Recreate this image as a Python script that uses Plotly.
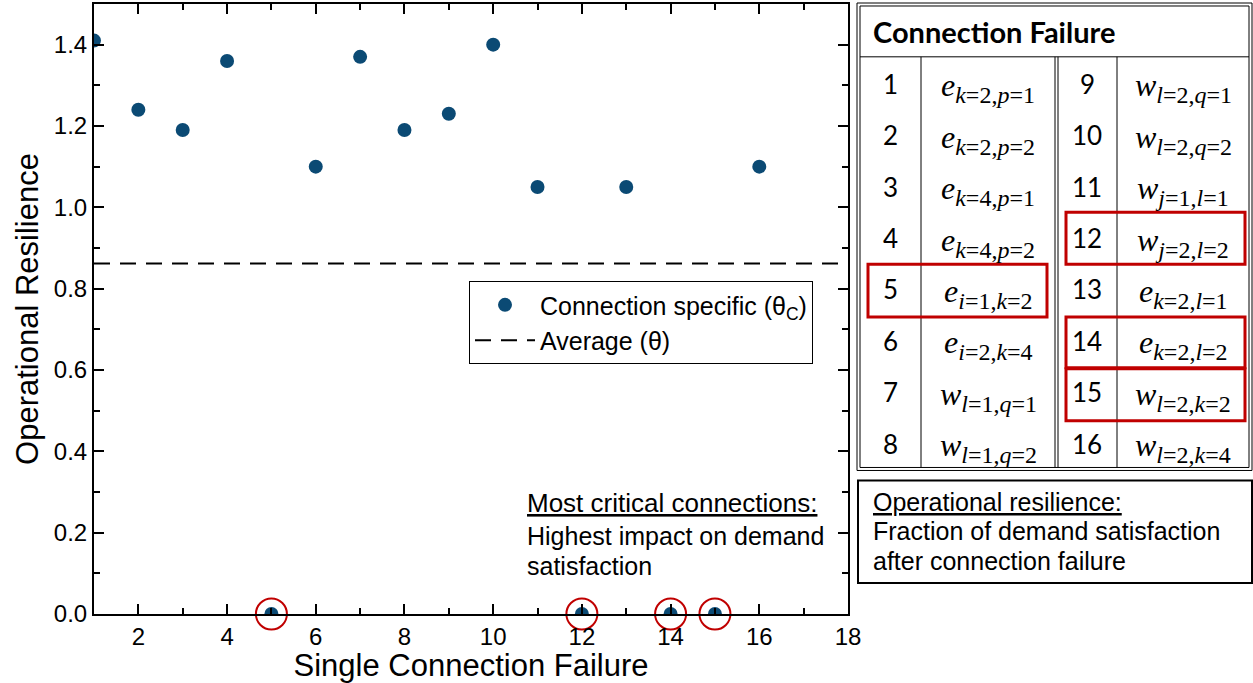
import plotly.graph_objects as go

# Operational resilience for each single connection failure
failure_ids = list(range(1, 17))
resilience = [1.41, 1.24, 1.19, 1.36, 0.0, 1.10, 1.37, 1.19,
              1.23, 1.40, 1.05, 0.0, 1.05, 0.0, 0.0, 1.10]
average_resilience = 0.862

# Connection labels shown in the lookup table (index -> connection)
table_ids_left = [1, 2, 3, 4, 5, 6, 7, 8]
table_conn_left = [
    ("e", "k", "2", "p", "1"), ("e", "k", "2", "p", "2"),
    ("e", "k", "4", "p", "1"), ("e", "k", "4", "p", "2"),
    ("e", "i", "1", "k", "2"), ("e", "i", "2", "k", "4"),
    ("w", "l", "1", "q", "1"), ("w", "l", "1", "q", "2"),
]
table_ids_right = [9, 10, 11, 12, 13, 14, 15, 16]
table_conn_right = [
    ("w", "l", "2", "q", "1"), ("w", "l", "2", "q", "2"),
    ("w", "j", "1", "l", "1"), ("w", "j", "2", "l", "2"),
    ("e", "k", "2", "l", "1"), ("e", "k", "2", "l", "2"),
    ("w", "l", "2", "k", "2"), ("w", "l", "2", "k", "4"),
]

critical = [i for i, v in zip(failure_ids, resilience) if v == 0.0]

W, H = 1253, 683
ML, MR, MT, MB = 94, 405, 2, 69
PW, PH = W - ML - MR, H - MT - MB


def px(x):
    return (x - ML) / PW


def py(y):
    return (H - MB - y) / PH


SANS = "Liberation Sans, Arial, sans-serif"
TABLE_FONT = "Lato, Carlito, sans-serif"
MATH_FONT = "Liberation Serif, DejaVu Serif, serif"
BLUE = "#0B4A74"
RED = "#C00000"

fig = go.Figure()

fig.add_trace(go.Scatter(
    x=failure_ids, y=resilience, mode="markers",
    name="Connection specific (θ<sub>C</sub>)",
    marker=dict(color=BLUE, size=14),
    cliponaxis=True,
))
fig.add_trace(go.Scatter(
    x=[1, 18], y=[average_resilience, average_resilience], mode="lines",
    name="Average (θ)",
    line=dict(color="black", width=2, dash="16px,10px"),
))
fig.add_trace(go.Scatter(
    x=critical, y=[resilience[i - 1] for i in critical], mode="markers",
    showlegend=False, cliponaxis=False,
    marker=dict(symbol="circle-open", size=31, color=RED,
                line=dict(width=2, color=RED)),
))

shapes = []
annotations = []


def rect(x0, y0, x1, y1, color="black", width=1):
    shapes.append(dict(type="rect", xref="paper", yref="paper",
                       x0=px(x0), x1=px(x1), y0=py(y0), y1=py(y1),
                       line=dict(color=color, width=width),
                       fillcolor="rgba(0,0,0,0)", layer="above"))


def hline(x0, x1, y, width=1):
    shapes.append(dict(type="line", xref="paper", yref="paper",
                       x0=px(x0), x1=px(x1), y0=py(y), y1=py(y),
                       line=dict(color="black", width=width)))


def vline(x, y0, y1, width=1):
    shapes.append(dict(type="line", xref="paper", yref="paper",
                       x0=px(x), x1=px(x), y0=py(y0), y1=py(y1),
                       line=dict(color="black", width=width)))


def text(x, y, s, size, family=SANS, xanchor="left", yanchor="middle", color="black"):
    annotations.append(dict(xref="paper", yref="paper", x=px(x), y=py(y),
                            text=s, showarrow=False, xanchor=xanchor,
                            yanchor=yanchor, align="left",
                            font=dict(size=size, family=family, color=color)))


def math_label(base, a, av, b, bv):
    return (f"<i>{base}</i><sub><span style='font-size:24px'>"
            f"<i>{a}</i>={av},<i>{b}</i>={bv}</span></sub>")


# Connection lookup table with double outer border
rect(857, 1, 1252, 470)
rect(860, 4, 1249, 467)
hline(860, 1249, 55)
vline(921, 55, 467)
vline(1055, 55, 467)
vline(1058, 55, 467)
vline(1117, 55, 467)
text(871, 30, "<b>Connection Failure</b>", 29, TABLE_FONT)

row_h = 51.6
for r in range(8):
    yc = 82 + row_h * r
    text(890, yc, str(table_ids_left[r]), 26, TABLE_FONT, xanchor="center")
    text(1087, yc, str(table_ids_right[r]), 26, TABLE_FONT, xanchor="center")
    text(988, yc + 4, math_label(*table_conn_left[r]), 32, MATH_FONT, xanchor="center")
    text(1183, yc + 4, math_label(*table_conn_right[r]), 32, MATH_FONT, xanchor="center")

# Highlight boxes for the most critical connections
rect(868, 263, 1047, 316, RED, 3)
rect(1066, 211, 1245, 263, RED, 3)
rect(1066, 316, 1245, 367, RED, 3)
rect(1066, 368, 1245, 420, RED, 3)

# Definition box
rect(858, 480, 1252, 583, "black", 2)
text(871, 502, "<u>Operational resilience:</u>", 25)
text(871, 531, "Fraction of demand satisfaction", 25)
text(871, 561, "after connection failure", 25)

# Note about critical connections
text(525, 503, "<u>Most critical connections:</u>", 26)
text(525, 536, "Highest impact on demand", 25)
text(525, 566, "satisfaction", 25)

axis_common = dict(
    showline=True, linecolor="black", linewidth=2, mirror="ticks",
    ticks="inside", ticklen=10, tickwidth=2, tickcolor="black",
    showgrid=False, zeroline=False,
    tickfont=dict(family=SANS, size=24, color="black"),
)

fig.update_layout(
    width=W, height=H, autosize=False,
    margin=dict(l=ML, r=MR, t=MT, b=MB, pad=0),
    paper_bgcolor="white", plot_bgcolor="white",
    font=dict(family=SANS, color="black"),
    xaxis=dict(
        range=[1, 18], tick0=0, dtick=2,
        minor=dict(ticks="inside", ticklen=6, tickwidth=2, dtick=1, tick0=0,
                   tickcolor="black", showgrid=False),
        title=dict(text="Single Connection Failure", standoff=2,
                   font=dict(family=SANS, size=31, color="black")),
        **axis_common,
    ),
    yaxis=dict(
        range=[0, 1.5], tick0=0, dtick=0.2, tickformat=".1f",
        minor=dict(ticks="inside", ticklen=6, tickwidth=2, dtick=0.1, tick0=0,
                   tickcolor="black", showgrid=False),
        title=dict(text="Operational Resilience", standoff=6,
                   font=dict(family=SANS, size=31, color="black")),
        **axis_common,
    ),
    legend=dict(
        x=px(469), y=py(280), xanchor="left", yanchor="top",
        bgcolor="white", bordercolor="black", borderwidth=1,
        font=dict(family=SANS, size=25, color="black"),
        traceorder="normal", itemwidth=60,
    ),
    shapes=shapes,
    annotations=annotations,
)

fig.write_html("out.html")
